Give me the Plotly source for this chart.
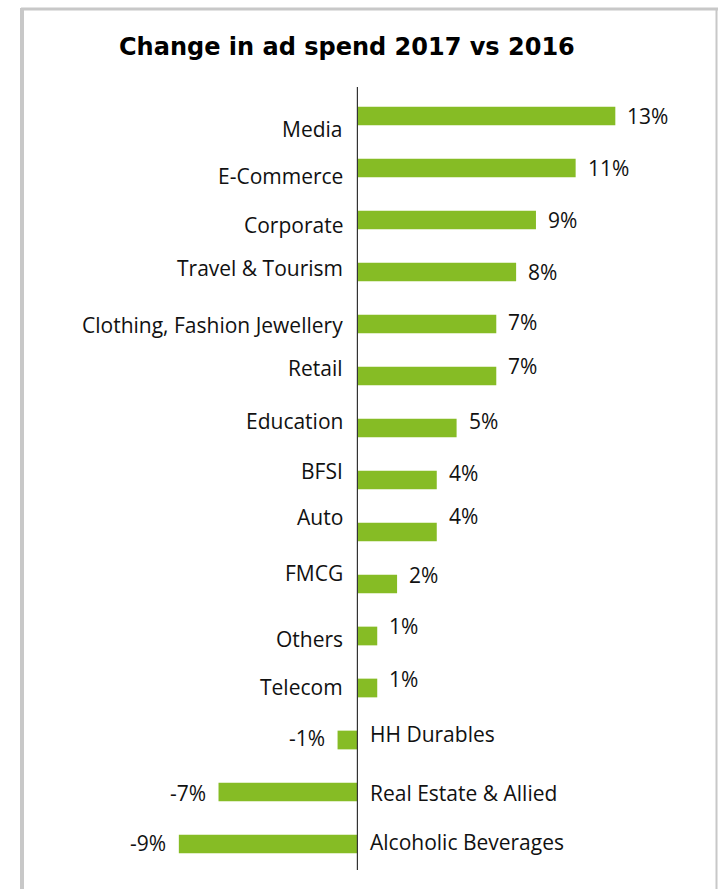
import plotly.graph_objects as go

# Change in ad spend by sector, 2017 vs 2016 (percent)
categories = [
    "Media", "E-Commerce", "Corporate", "Travel & Tourism",
    "Clothing, Fashion Jewellery", "Retail", "Education", "BFSI", "Auto",
    "FMCG", "Others", "Telecom", "HH Durables", "Real Estate & Allied",
    "Alcoholic Beverages",
]
change_pct = [13, 11, 9, 8, 7, 7, 5, 4, 4, 2, 1, 1, -1, -7, -9]

# small per-row vertical nudges (px, downward) for the text labels
name_nudge = [13, 8, 5, -4, 1, -8, -7, -9, -15, -11, 3, -1, -6, 1, -2]
value_nudge = [0, 0, 0, 0, -2, -10, -7, -7, -16, -9, -10, -9, -2, 1, -1]

GREEN = "#86BC25"
TEXT_FONT = dict(family="Open Sans, sans-serif", size=21, color="#111111")

fig = go.Figure(
    go.Bar(
        x=change_pct,
        y=categories,
        orientation="h",
        marker=dict(color=GREEN, line=dict(width=0)),
        width=0.36,
        hoverinfo="skip",
    )
)

annotations = []
for cat, val, dn, dv in zip(categories, change_pct, name_nudge, value_nudge):
    pos = val >= 0
    # category name on the opposite side of the zero line
    annotations.append(dict(
        x=0, y=cat, xref="x", yref="y", text=cat, showarrow=False,
        xanchor="right" if pos else "left",
        xshift=-12 if pos else 11, yshift=-dn,
        font=TEXT_FONT,
    ))
    # value label just past the end of the bar
    annotations.append(dict(
        x=val, y=cat, xref="x", yref="y", text=f"{val}%", showarrow=False,
        xanchor="left" if pos else "right",
        xshift=10 if pos else -11, yshift=-dv,
        font=TEXT_FONT,
    ))

W, H = 718, 889
ML, MR, MT, MB = 159, 63, 87, 19
pw, ph = W - ML - MR, H - MT - MB

# chart title, placed in paper coordinates
annotations.append(dict(
    x=(347 - ML) / pw, y=1 - (47 - MT) / ph, xref="paper", yref="paper",
    xanchor="center", yanchor="middle",
    text="<b>Change in ad spend 2017 vs 2016</b>", showarrow=False,
    font=dict(family="DejaVu Sans, Verdana, sans-serif", size=24, color="#000000"),
))

fig.update_layout(
    width=W, height=H,
    margin=dict(l=ML, r=MR, t=MT, b=MB, pad=0),
    paper_bgcolor="white", plot_bgcolor="white",
    showlegend=False,
    annotations=annotations,
    xaxis=dict(range=[-10, 15], visible=False, showgrid=False, zeroline=False,
               fixedrange=True),
    yaxis=dict(autorange="reversed", showticklabels=False, showgrid=False,
               zeroline=False, showline=False, ticks="", fixedrange=True),
    shapes=[
        # zero line
        dict(type="line", xref="x", yref="paper", x0=0, x1=0, y0=0, y1=1,
             line=dict(color="#333333", width=1.2)),
        # outer frame
        dict(type="line", xref="paper", yref="paper",
             x0=(21 - ML) / pw, x1=(W - ML) / pw,
             y0=1 + (MT - 9) / ph, y1=1 + (MT - 9) / ph,
             line=dict(color="#c8c8c8", width=3)),
        dict(type="line", xref="paper", yref="paper",
             x0=(22 - ML) / pw, x1=(22 - ML) / pw,
             y0=1 + (MT - 8) / ph, y1=-MB / ph - 0.01,
             line=dict(color="#c8c8c8", width=4)),
        dict(type="line", xref="paper", yref="paper",
             x0=(716.5 - ML) / pw, x1=(716.5 - ML) / pw,
             y0=1 + (MT - 8) / ph, y1=-MB / ph - 0.01,
             line=dict(color="#c8c8c8", width=2)),
    ],
)

fig.write_html("out.html", config={"displayModeBar": False})
